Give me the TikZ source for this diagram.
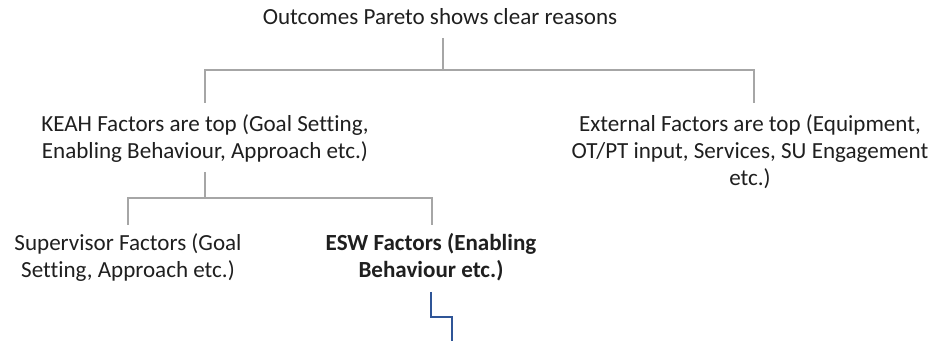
\documentclass[tikz,border=0pt]{standalone}
\usepackage{fontspec}
\setmainfont[Ligatures=NoCommon]{Carlito}
\begin{document}
\begin{tikzpicture}[x=0.75pt,y=-0.75pt,
  lbl/.style={inner sep=0pt,align=center,font=\fontsize{17.3}{20.25}\selectfont,text=black!88},
  conn/.style={draw=black!35,line width=1.5pt},
  bconn/.style={draw={rgb,255:red,47;green,85;blue,151},line width=1.8pt}]
\useasboundingbox (0,0) rectangle (931,341);
\node[lbl] (top) at (440,17) {Outcomes Pareto shows clear reasons};
\node[lbl] (keah) at (205,138.5) {KEAH Factors are top (Goal Setting,\\Enabling Behaviour, Approach etc.)};
\node[lbl] (ext) at (750,152) {External Factors are top (Equipment,\\OT/PT input, Services, SU Engagement\\etc.)};
\node[lbl] (sup) at (128,257.5) {Supervisor Factors (Goal\\Setting, Approach etc.)};
\node[lbl,font=\fontsize{17.3}{20.25}\selectfont\bfseries] (esw) at (431,257.5) {ESW Factors (Enabling\\Behaviour etc.)};
\coordinate (a1) at (443,38);
\coordinate (a2) at (443,70);
\coordinate (kt) at (205,103);
\coordinate (et) at (754,103);
\draw[conn] (a1) -- (a2);
\draw[conn] (kt) |- (a2) -| (et);
\coordinate (b1) at (205,172);
\coordinate (b2) at (205,198);
\coordinate (st) at (128,225);
\coordinate (wt) at (432,225);
\draw[conn] (b1) -- (b2);
\draw[conn] (st) |- (b2) -| (wt);
\coordinate (c1) at (431,292);
\coordinate (c2) at (452,341);
\draw[bconn] (c1) -- (431,317) -| (c2);
\end{tikzpicture}
\end{document}
